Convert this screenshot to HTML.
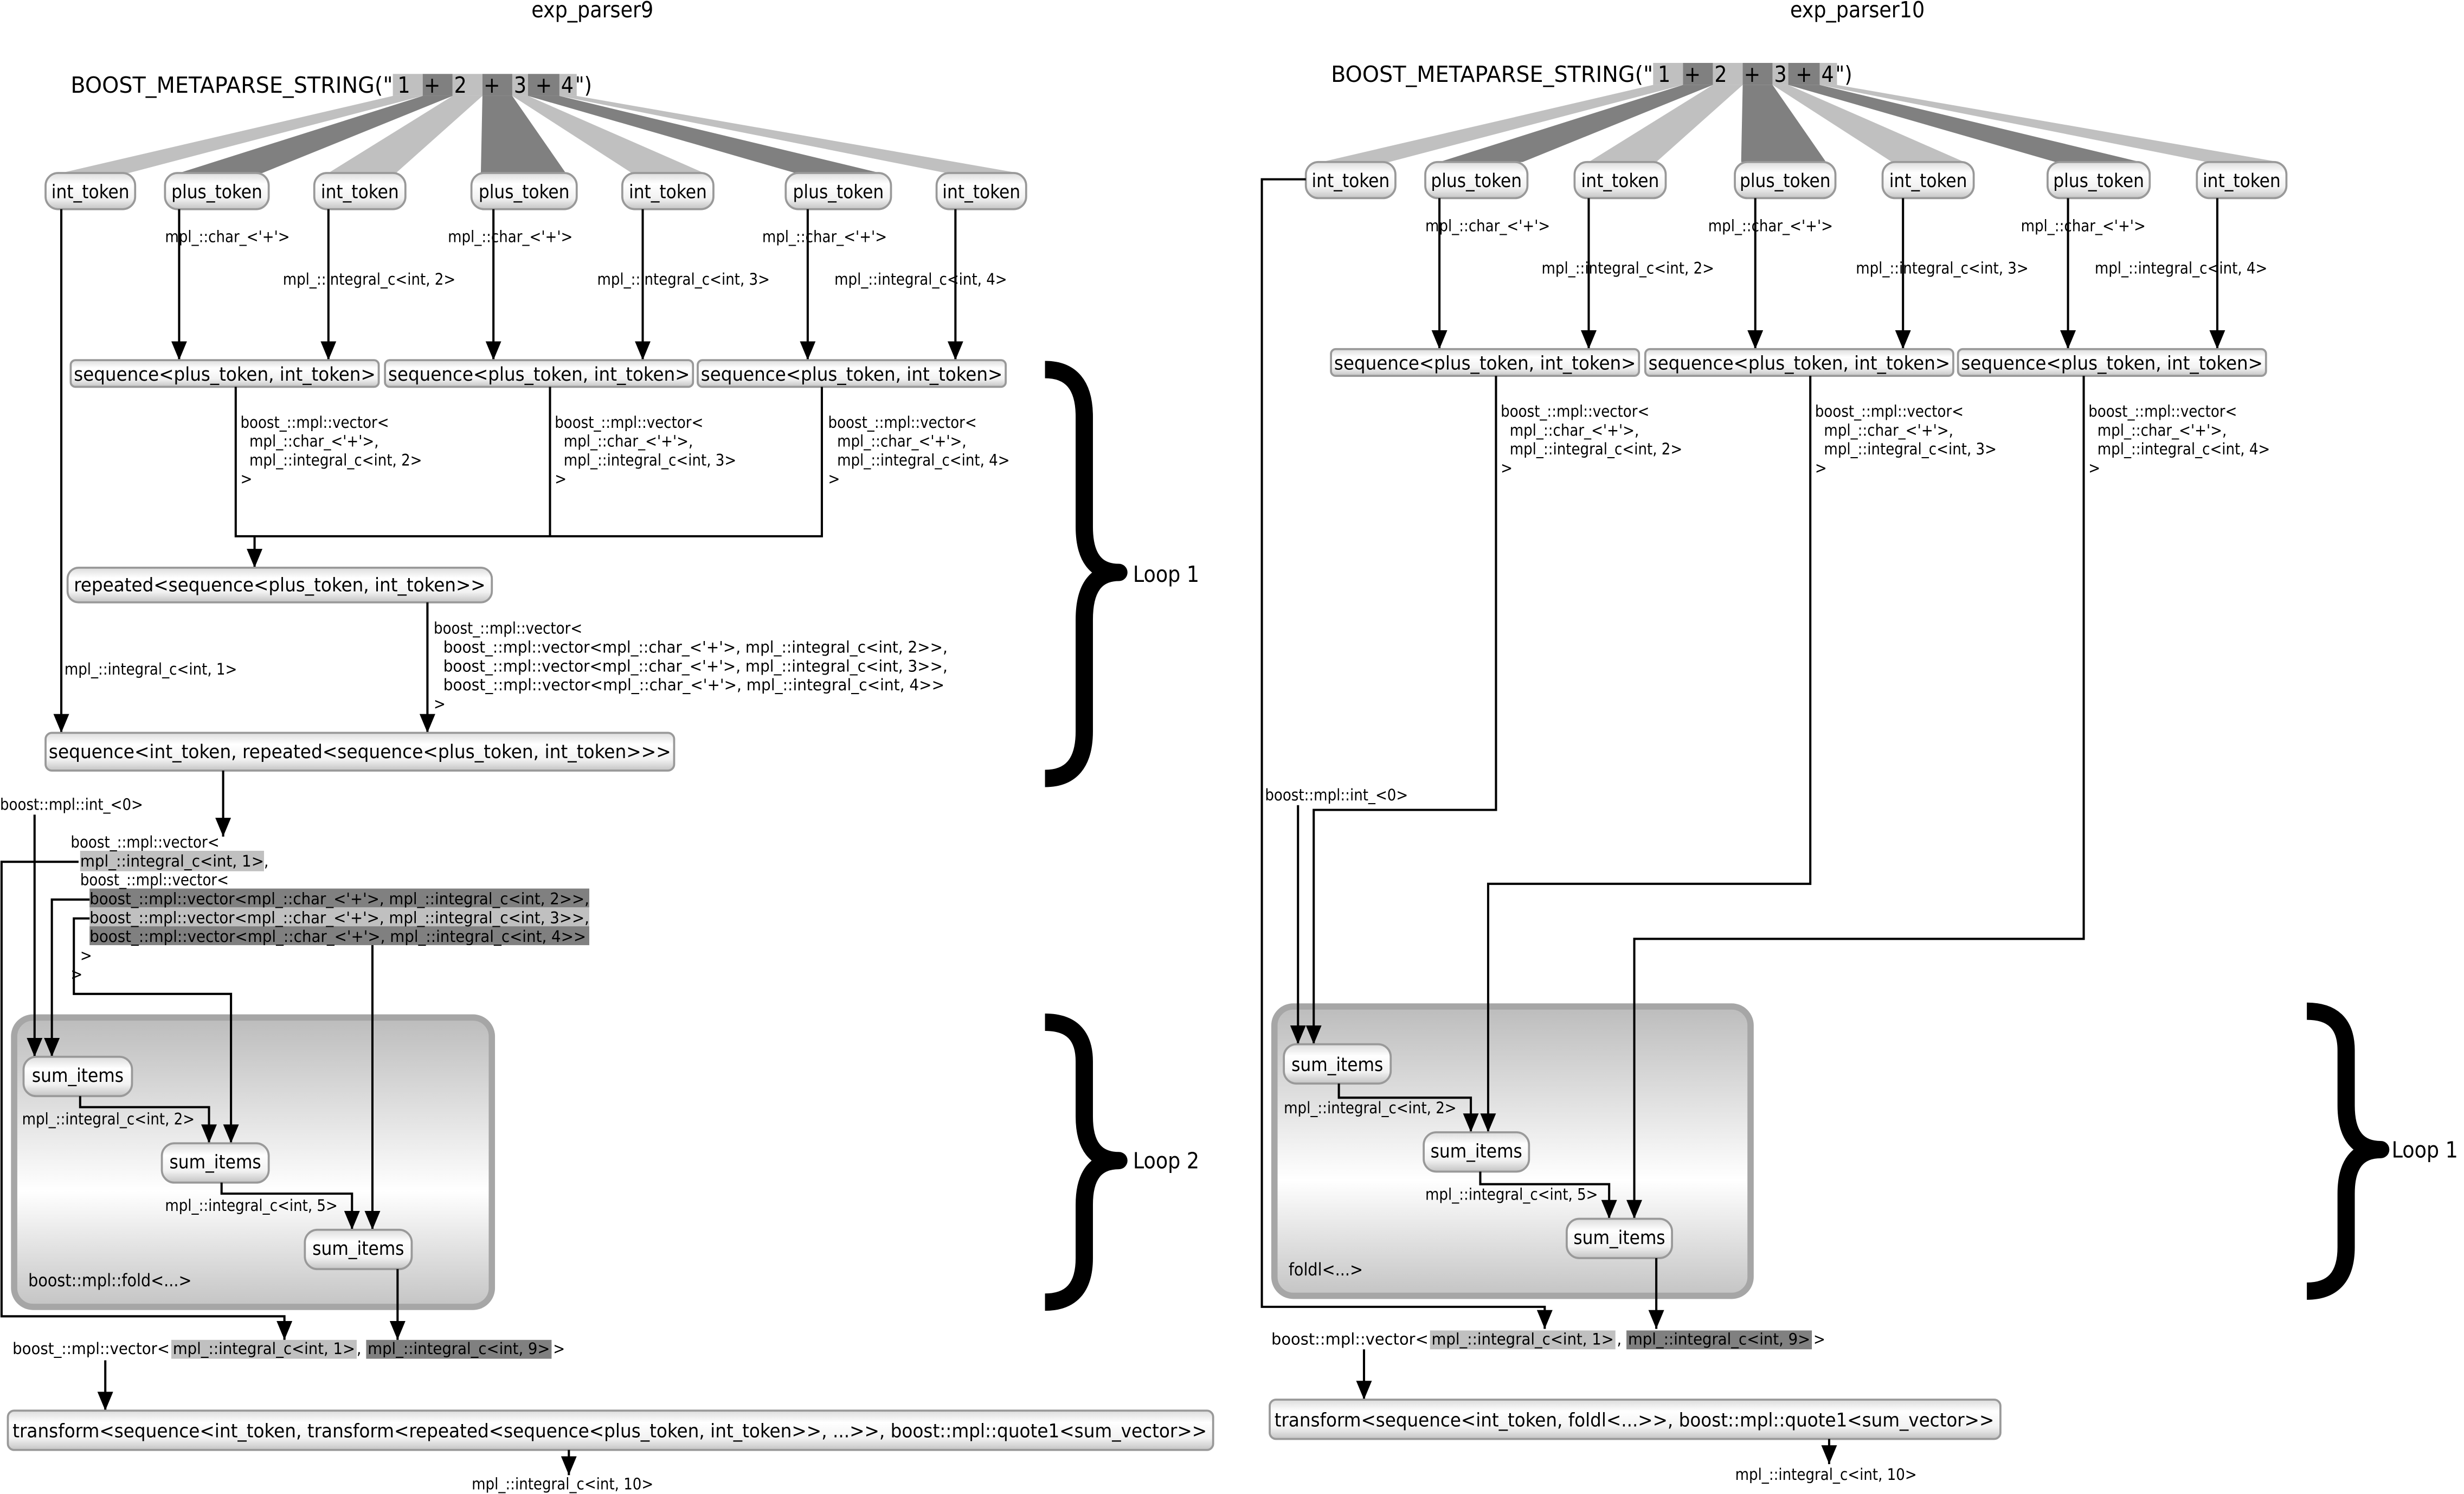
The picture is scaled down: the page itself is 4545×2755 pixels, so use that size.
<!DOCTYPE html>
<html><head><meta charset="utf-8"><style>
html,body{margin:0;padding:0;background:#fff;}
svg{display:block;}
text{font-family:"DejaVu Sans Condensed","DejaVu Sans","Liberation Sans",sans-serif;fill:#000;white-space:pre;}
.n{font-size:12px;text-anchor:middle;}
.l{font-size:10px;}
.t{font-size:14px;}
.c{font-size:14px;text-anchor:middle;}
.e{stroke:#000;stroke-width:1.4;fill:none;}
</style></head><body>
<svg width="4545" height="2755" viewBox="0 0 1568 950" preserveAspectRatio="none" xmlns="http://www.w3.org/2000/svg">
<defs>
<marker id="a" markerUnits="userSpaceOnUse" markerWidth="12" markerHeight="10" refX="12" refY="5" orient="auto" viewBox="0 0 12 10">
<path d="M0,0 L12,5 L0,10 z" fill="#000"/></marker>
<linearGradient id="g" x1="0" y1="0" x2="0" y2="1"><stop offset="0" stop-color="#dcdcdc"/><stop offset="0.3" stop-color="#fff"/><stop offset="0.7" stop-color="#f2f2f2"/><stop offset="1" stop-color="#c4c4c4"/></linearGradient>
<linearGradient id="gb" x1="0" y1="0" x2="0" y2="1"><stop offset="0" stop-color="#bcbcbc"/><stop offset="0.6" stop-color="#fff"/><stop offset="1" stop-color="#c4c4c4"/></linearGradient>
<g id="fan">
<rect x="250" y="47" width="19" height="14" fill="#c0c0c0"/><rect x="269" y="47" width="19" height="14" fill="#808080"/>
<rect x="288" y="47" width="19" height="14" fill="#c0c0c0"/><rect x="307" y="47" width="19" height="14" fill="#808080"/>
<rect x="326" y="47" width="10" height="14" fill="#c0c0c0"/><rect x="336" y="47" width="20" height="14" fill="#808080"/>
<rect x="356" y="47" width="11" height="14" fill="#c0c0c0"/>
<polygon points="250,61 269,61 82,110 39,110" fill="#c0c0c0"/>
<polygon points="269,61 288,61 167,110 114,110" fill="#808080"/>
<polygon points="288,61 307,61 252,110 209,110" fill="#c0c0c0"/>
<polygon points="307,61 326,61 360,110 306,110" fill="#808080"/>
<polygon points="326,61 336,61 448,110 402,110" fill="#c0c0c0"/>
<polygon points="336,61 356,61 560,110 506,110" fill="#808080"/>
<polygon points="356,61 367,61 648,110 602,110" fill="#c0c0c0"/>
<text class="t" x="45" y="59" textLength="205" lengthAdjust="spacingAndGlyphs">BOOST_METAPARSE_STRING("</text>
<text class="c" x="257" y="59">1</text><text class="c" x="275" y="59">+</text><text class="c" x="293" y="59">2</text>
<text class="c" x="313" y="59">+</text><text class="c" x="331" y="59">3</text><text class="c" x="346" y="59">+</text>
<text class="c" x="361" y="59">4</text><text class="t" x="366" y="59">")</text>
</g>
</defs>
<style>.nd{fill:url(#g);stroke:#999;stroke-width:1.3;}</style>

<text class="t" x="377" y="11" text-anchor="middle">exp_parser9</text>
<text class="t" x="1182" y="11" text-anchor="middle">exp_parser10</text>

<use href="#fan"/>
<use href="#fan" transform="translate(802,-7)"/>

<!-- LEFT token nodes -->
<rect class="nd" x="29" y="110" width="57" height="23" rx="8"/><text class="n" x="57.5" y="126">int_token</text>
<rect class="nd" x="105" y="110" width="66" height="23" rx="8"/><text class="n" x="138" y="126">plus_token</text>
<rect class="nd" x="200" y="110" width="58" height="23" rx="8"/><text class="n" x="229" y="126">int_token</text>
<rect class="nd" x="300" y="110" width="67" height="23" rx="8"/><text class="n" x="333.5" y="126">plus_token</text>
<rect class="nd" x="396" y="110" width="58" height="23" rx="8"/><text class="n" x="425" y="126">int_token</text>
<rect class="nd" x="500" y="110" width="67" height="23" rx="8"/><text class="n" x="533.5" y="126">plus_token</text>
<rect class="nd" x="596" y="110" width="57" height="23" rx="8"/><text class="n" x="624.5" y="126">int_token</text>

<path class="e" d="M114,133 V229" marker-end="url(#a)"/>
<path class="e" d="M209,133 V229" marker-end="url(#a)"/>
<path class="e" d="M314,133 V229" marker-end="url(#a)"/>
<path class="e" d="M409,133 V229" marker-end="url(#a)"/>
<path class="e" d="M514,133 V229" marker-end="url(#a)"/>
<path class="e" d="M608,133 V229" marker-end="url(#a)"/>
<text class="l" x="105" y="154">mpl_::char_&lt;'+'&gt;</text>
<text class="l" x="180" y="181">mpl_::integral_c&lt;int, 2&gt;</text>
<text class="l" x="285" y="154">mpl_::char_&lt;'+'&gt;</text>
<text class="l" x="380" y="181">mpl_::integral_c&lt;int, 3&gt;</text>
<text class="l" x="485" y="154">mpl_::char_&lt;'+'&gt;</text>
<text class="l" x="531" y="181">mpl_::integral_c&lt;int, 4&gt;</text>

<rect class="nd" x="45" y="229" width="196" height="17" rx="3"/><text class="n" x="143" y="242" textLength="192" lengthAdjust="spacingAndGlyphs">sequence&lt;plus_token, int_token&gt;</text>
<rect class="nd" x="245" y="229" width="196" height="17" rx="3"/><text class="n" x="343" y="242" textLength="192" lengthAdjust="spacingAndGlyphs">sequence&lt;plus_token, int_token&gt;</text>
<rect class="nd" x="444" y="229" width="196" height="17" rx="3"/><text class="n" x="542" y="242" textLength="192" lengthAdjust="spacingAndGlyphs">sequence&lt;plus_token, int_token&gt;</text>

<path class="e" d="M150,246 V341 H523 V246 M350,246 V341"/>
<path class="e" d="M162,341 V361" marker-end="url(#a)"/>
<text class="l" x="153" y="272">boost_::mpl::vector&lt;</text><text class="l" x="153" y="284">  mpl_::char_&lt;'+'&gt;,</text><text class="l" x="153" y="296">  mpl_::integral_c&lt;int, 2&gt;</text><text class="l" x="153" y="308">&gt;</text>
<text class="l" x="353" y="272">boost_::mpl::vector&lt;</text><text class="l" x="353" y="284">  mpl_::char_&lt;'+'&gt;,</text><text class="l" x="353" y="296">  mpl_::integral_c&lt;int, 3&gt;</text><text class="l" x="353" y="308">&gt;</text>
<text class="l" x="527" y="272">boost_::mpl::vector&lt;</text><text class="l" x="527" y="284">  mpl_::char_&lt;'+'&gt;,</text><text class="l" x="527" y="296">  mpl_::integral_c&lt;int, 4&gt;</text><text class="l" x="527" y="308">&gt;</text>

<rect class="nd" x="43" y="361" width="270" height="22" rx="7"/><text class="n" x="178" y="376" textLength="262" lengthAdjust="spacingAndGlyphs">repeated&lt;sequence&lt;plus_token, int_token&gt;&gt;</text>
<path class="e" d="M272,383 V466" marker-end="url(#a)"/>
<text class="l" x="276" y="403">boost_::mpl::vector&lt;</text>
<text class="l" x="276" y="415" textLength="327" lengthAdjust="spacingAndGlyphs">  boost_::mpl::vector&lt;mpl_::char_&lt;'+'&gt;, mpl_::integral_c&lt;int, 2&gt;&gt;,</text>
<text class="l" x="276" y="427" textLength="327" lengthAdjust="spacingAndGlyphs">  boost_::mpl::vector&lt;mpl_::char_&lt;'+'&gt;, mpl_::integral_c&lt;int, 3&gt;&gt;,</text>
<text class="l" x="276" y="439" textLength="325" lengthAdjust="spacingAndGlyphs">  boost_::mpl::vector&lt;mpl_::char_&lt;'+'&gt;, mpl_::integral_c&lt;int, 4&gt;&gt;</text>
<text class="l" x="276" y="451">&gt;</text>
<path class="e" d="M39,133 V466" marker-end="url(#a)"/>
<text class="l" x="41" y="429">mpl_::integral_c&lt;int, 1&gt;</text>

<rect class="nd" x="29" y="466" width="400" height="24" rx="4"/><text class="n" x="229" y="482" textLength="396" lengthAdjust="spacingAndGlyphs">sequence&lt;int_token, repeated&lt;sequence&lt;plus_token, int_token&gt;&gt;&gt;</text>
<path class="e" d="M142,490 V532" marker-end="url(#a)"/>

<rect x="9" y="647" width="304" height="184" rx="12" fill="url(#gb)" stroke="#a6a6a6" stroke-width="4"/>
<text class="l" x="18" y="818" style="font-size:11px">boost::mpl::fold&lt;...&gt;</text>

<text class="l" x="0" y="515">boost::mpl::int_&lt;0&gt;</text>
<rect x="51" y="541" width="117" height="13" fill="#c0c0c0"/>
<rect x="57" y="565" width="318" height="12" fill="#808080"/>
<rect x="57" y="577" width="318" height="12" fill="#c0c0c0"/>
<rect x="57" y="589" width="318" height="12" fill="#808080"/>
<text class="l" x="45" y="539">boost_::mpl::vector&lt;</text>
<text class="l" x="51" y="551" textLength="117" lengthAdjust="spacingAndGlyphs">mpl_::integral_c&lt;int, 1&gt;</text><text class="l" x="168" y="551">,</text>
<text class="l" x="51" y="563">boost_::mpl::vector&lt;</text>
<text class="l" x="57" y="575" textLength="318" lengthAdjust="spacingAndGlyphs">boost_::mpl::vector&lt;mpl_::char_&lt;'+'&gt;, mpl_::integral_c&lt;int, 2&gt;&gt;,</text>
<text class="l" x="57" y="587" textLength="318" lengthAdjust="spacingAndGlyphs">boost_::mpl::vector&lt;mpl_::char_&lt;'+'&gt;, mpl_::integral_c&lt;int, 3&gt;&gt;,</text>
<text class="l" x="57" y="599" textLength="316" lengthAdjust="spacingAndGlyphs">boost_::mpl::vector&lt;mpl_::char_&lt;'+'&gt;, mpl_::integral_c&lt;int, 4&gt;&gt;</text>
<text class="l" x="51" y="611">&gt;</text>
<text class="l" x="45" y="623">&gt;</text>

<path class="e" d="M22,518 V672" marker-end="url(#a)"/>
<path class="e" d="M50,548 H1 V837 H181 V852" marker-end="url(#a)"/>
<path class="e" d="M57,572 H33 V672" marker-end="url(#a)"/>
<path class="e" d="M57,584 H47 V632 H147 V727" marker-end="url(#a)"/>
<path class="e" d="M237,601 V782" marker-end="url(#a)"/>

<rect class="nd" x="15" y="672" width="69" height="25" rx="8"/><text class="n" x="49.5" y="688">sum_items</text>
<path class="e" d="M51,697 V704 H133 V727" marker-end="url(#a)"/>
<text class="l" x="14" y="715">mpl_::integral_c&lt;int, 2&gt;</text>
<rect class="nd" x="103" y="727" width="68" height="25" rx="8"/><text class="n" x="137" y="743">sum_items</text>
<path class="e" d="M141,752 V759 H224 V782" marker-end="url(#a)"/>
<text class="l" x="105" y="770">mpl_::integral_c&lt;int, 5&gt;</text>
<rect class="nd" x="194" y="782" width="68" height="25" rx="8"/><text class="n" x="228" y="798">sum_items</text>
<path class="e" d="M253,807 V852" marker-end="url(#a)"/>

<rect x="109" y="852" width="118" height="12" fill="#c0c0c0"/>
<rect x="233" y="852" width="118" height="12" fill="#808080"/>
<text class="l" x="8" y="861" textLength="100" lengthAdjust="spacingAndGlyphs">boost_::mpl::vector&lt;</text>
<text class="l" x="110" y="861" textLength="116" lengthAdjust="spacingAndGlyphs">mpl_::integral_c&lt;int, 1&gt;</text><text class="l" x="227" y="861">,</text>
<text class="l" x="234" y="861" textLength="116" lengthAdjust="spacingAndGlyphs">mpl_::integral_c&lt;int, 9&gt;</text><text class="l" x="352" y="861">&gt;</text>
<path class="e" d="M67,865 V897" marker-end="url(#a)"/>
<rect class="nd" x="5" y="897" width="767" height="25" rx="4"/><text class="n" x="388" y="914" textLength="760" lengthAdjust="spacingAndGlyphs">transform&lt;sequence&lt;int_token, transform&lt;repeated&lt;sequence&lt;plus_token, int_token&gt;&gt;, ...&gt;&gt;, boost::mpl::quote1&lt;sum_vector&gt;&gt;</text>
<path class="e" d="M362,922 V938" marker-end="url(#a)"/>
<text class="l" x="358" y="947" text-anchor="middle">mpl_::integral_c&lt;int, 10&gt;</text>

<g fill="none" stroke="#000" stroke-width="11" stroke-linejoin="round">
<path d="M665,235 Q690,235 690,265 V335 Q690,364 712,364 Q690,364 690,394 V465 Q690,495 665,495"/>
<path d="M665,650 Q690,650 690,675 V710 Q690,738 712,738 Q690,738 690,766 V800 Q690,828 665,828"/>
<path d="M1468,643 Q1493,643 1493,668 V703 Q1493,731 1515,731 Q1493,731 1493,759 V793 Q1493,821 1468,821"/>
</g>
<text class="t" x="721" y="370">Loop 1</text>
<text class="t" x="721" y="743">Loop 2</text>
<text class="t" x="1522" y="736">Loop 1</text>

<!-- RIGHT -->
<rect class="nd" x="831" y="103" width="57" height="23" rx="8"/><text class="n" x="859.5" y="119">int_token</text>
<rect class="nd" x="907" y="103" width="65" height="23" rx="8"/><text class="n" x="939.5" y="119">plus_token</text>
<rect class="nd" x="1002" y="103" width="58" height="23" rx="8"/><text class="n" x="1031" y="119">int_token</text>
<rect class="nd" x="1104" y="103" width="64" height="23" rx="8"/><text class="n" x="1136" y="119">plus_token</text>
<rect class="nd" x="1198" y="103" width="58" height="23" rx="8"/><text class="n" x="1227" y="119">int_token</text>
<rect class="nd" x="1303" y="103" width="65" height="23" rx="8"/><text class="n" x="1335.5" y="119">plus_token</text>
<rect class="nd" x="1398" y="103" width="57" height="23" rx="8"/><text class="n" x="1426.5" y="119">int_token</text>

<path class="e" d="M916,126 V222" marker-end="url(#a)"/>
<path class="e" d="M1011,126 V222" marker-end="url(#a)"/>
<path class="e" d="M1117,126 V222" marker-end="url(#a)"/>
<path class="e" d="M1211,126 V222" marker-end="url(#a)"/>
<path class="e" d="M1316,126 V222" marker-end="url(#a)"/>
<path class="e" d="M1411,126 V222" marker-end="url(#a)"/>
<text class="l" x="907" y="147">mpl_::char_&lt;'+'&gt;</text>
<text class="l" x="981" y="174">mpl_::integral_c&lt;int, 2&gt;</text>
<text class="l" x="1087" y="147">mpl_::char_&lt;'+'&gt;</text>
<text class="l" x="1181" y="174">mpl_::integral_c&lt;int, 3&gt;</text>
<text class="l" x="1286" y="147">mpl_::char_&lt;'+'&gt;</text>
<text class="l" x="1333" y="174">mpl_::integral_c&lt;int, 4&gt;</text>

<rect class="nd" x="847" y="222" width="196" height="17" rx="3"/><text class="n" x="945" y="235" textLength="192" lengthAdjust="spacingAndGlyphs">sequence&lt;plus_token, int_token&gt;</text>
<rect class="nd" x="1047" y="222" width="196" height="17" rx="3"/><text class="n" x="1145" y="235" textLength="192" lengthAdjust="spacingAndGlyphs">sequence&lt;plus_token, int_token&gt;</text>
<rect class="nd" x="1246" y="222" width="196" height="17" rx="3"/><text class="n" x="1344" y="235" textLength="192" lengthAdjust="spacingAndGlyphs">sequence&lt;plus_token, int_token&gt;</text>

<text class="l" x="955" y="265">boost_::mpl::vector&lt;</text><text class="l" x="955" y="277">  mpl_::char_&lt;'+'&gt;,</text><text class="l" x="955" y="289">  mpl_::integral_c&lt;int, 2&gt;</text><text class="l" x="955" y="301">&gt;</text>
<text class="l" x="1155" y="265">boost_::mpl::vector&lt;</text><text class="l" x="1155" y="277">  mpl_::char_&lt;'+'&gt;,</text><text class="l" x="1155" y="289">  mpl_::integral_c&lt;int, 3&gt;</text><text class="l" x="1155" y="301">&gt;</text>
<text class="l" x="1329" y="265">boost_::mpl::vector&lt;</text><text class="l" x="1329" y="277">  mpl_::char_&lt;'+'&gt;,</text><text class="l" x="1329" y="289">  mpl_::integral_c&lt;int, 4&gt;</text><text class="l" x="1329" y="301">&gt;</text>

<rect x="811" y="640" width="303" height="184" rx="12" fill="url(#gb)" stroke="#a6a6a6" stroke-width="4"/>
<text class="l" x="820" y="811" style="font-size:11px">foldl&lt;...&gt;</text>

<path class="e" d="M831,114 H803 V831 H983 V845" marker-end="url(#a)"/>
<path class="e" d="M952,239 V515 H836 V664" marker-end="url(#a)"/>
<path class="e" d="M1152,239 V562 H947 V720" marker-end="url(#a)"/>
<path class="e" d="M1326,239 V597 H1040 V775" marker-end="url(#a)"/>
<text class="l" x="805" y="509">boost::mpl::int_&lt;0&gt;</text>
<path class="e" d="M826,512 V664" marker-end="url(#a)"/>

<rect class="nd" x="817" y="664" width="68" height="25" rx="8"/><text class="n" x="851" y="681">sum_items</text>
<path class="e" d="M852,689 V698 H936 V720" marker-end="url(#a)"/>
<text class="l" x="817" y="708">mpl_::integral_c&lt;int, 2&gt;</text>
<rect class="nd" x="906" y="720" width="67" height="25" rx="8"/><text class="n" x="939.5" y="736">sum_items</text>
<path class="e" d="M942,745 V753 H1024 V775" marker-end="url(#a)"/>
<text class="l" x="907" y="763">mpl_::integral_c&lt;int, 5&gt;</text>
<rect class="nd" x="997" y="775" width="67" height="25" rx="8"/><text class="n" x="1030.5" y="791">sum_items</text>
<path class="e" d="M1054,800 V845" marker-end="url(#a)"/>

<rect x="910" y="846" width="118" height="12" fill="#c0c0c0"/>
<rect x="1035" y="846" width="118" height="12" fill="#808080"/>
<text class="l" x="809" y="855" textLength="100" lengthAdjust="spacingAndGlyphs">boost::mpl::vector&lt;</text>
<text class="l" x="911" y="855" textLength="116" lengthAdjust="spacingAndGlyphs">mpl_::integral_c&lt;int, 1&gt;</text><text class="l" x="1029" y="855">,</text>
<text class="l" x="1036" y="855" textLength="116" lengthAdjust="spacingAndGlyphs">mpl_::integral_c&lt;int, 9&gt;</text><text class="l" x="1154" y="855">&gt;</text>
<path class="e" d="M868,858 V890" marker-end="url(#a)"/>
<rect class="nd" x="808" y="890" width="465" height="25" rx="4"/><text class="n" x="1040" y="907" textLength="458" lengthAdjust="spacingAndGlyphs">transform&lt;sequence&lt;int_token, foldl&lt;...&gt;&gt;, boost::mpl::quote1&lt;sum_vector&gt;&gt;</text>
<path class="e" d="M1164,915 V931" marker-end="url(#a)"/>
<text class="l" x="1162" y="941" text-anchor="middle">mpl_::integral_c&lt;int, 10&gt;</text>
</svg>
</body></html>
